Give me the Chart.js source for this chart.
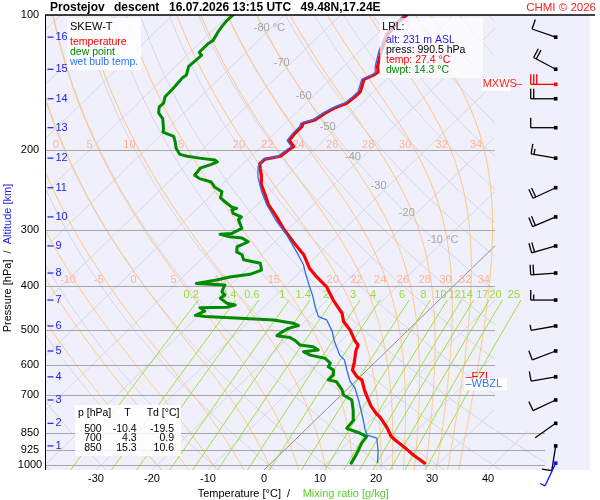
<!DOCTYPE html>
<html>
<head>
<meta charset="utf-8">
<title>Skew-T Prostejov</title>
<script src="https://cdn.jsdelivr.net/npm/chart.js@4.4.1/dist/chart.umd.min.js"></script>
<style>
html,body{margin:0;padding:0;background:#ffffff;}
canvas{display:block;}
</style>
</head>
<body>
<canvas id="skewt" width="600" height="500"></canvas>
<script>
// ================= DATA =================
// temperature profile (pressure hPa / temperature °C)
const tempP = [990.5,950,923,880,862,836,825,783,768,739,705,681,647,636,615,589,558,541,528,501,480,460,430,402,382,366,341,319,298,281,264,251,239,227,219,214,209,206,200,196,190,183,177,174,171,165,161,157,152,148,144,139,136,134,130,120,110,104,100];
const tempT = [27.4,23.9,21.7,17.9,16.4,14.8,14.1,11.0,9.6,7.3,4.9,3.2,0.9,-0.6,-2.6,-3.8,-5.5,-6.2,-7.7,-10.4,-13.1,-14.9,-18.9,-22.5,-26.1,-28.9,-32.5,-36.8,-41.0,-44.3,-48.0,-50.4,-52.8,-54.7,-56.2,-57.1,-57.0,-54.8,-54.5,-54.2,-56.1,-56.4,-56.4,-56.8,-55.3,-54.7,-54.0,-52.7,-52.4,-52.4,-53.1,-54.0,-53.1,-52.8,-54.0,-56.2,-58.1,-58.5,-58.2];
// dew point profile
const dewP = [990.5,958,926,895,865,850,829,794,755,717,699,681,653,647,631,615,605,594,579,570,560,555,546,541,528,521,516,510,497,490,484,476,472,468,465,455,447,446,441,437,426,419,412,405,398,395,388,382,377,369,356,350,341,336,327,324,319,313,311,307,306,298,285,281,276,271,269,267,260,255,247,241,235,231,227,219,215,212,210,208,206,204,198,191,186,182,179,170,165,160,157,152,146,138,136,130,123,121,116,114,111,109,106,103,100];
const dewT = [14.3,13.8,13.2,12.5,12.2,10.4,7.1,6.8,4.9,2.8,0.4,-0.8,-3.3,-5.1,-5.1,-6.0,-7.5,-7.8,-9.7,-12.9,-14.7,-12.4,-13.9,-16.6,-18.4,-19.7,-22.4,-22.3,-21.7,-20.4,-21.8,-25.9,-32.2,-38.7,-40.7,-39.8,-41.3,-36.6,-35.5,-37.3,-39.4,-39.2,-40.3,-40.7,-41.0,-46.4,-43.4,-41.6,-38.5,-37.2,-38.7,-42.3,-43.5,-45.0,-45.9,-45.4,-44.8,-46.6,-49.0,-51.2,-49.3,-48.4,-50.6,-50.6,-52.7,-53.6,-53.0,-54.2,-56.3,-57.8,-58.7,-60.9,-62.4,-65.1,-66.6,-66.9,-65.7,-65.0,-65.8,-68.9,-71.4,-73.1,-74.8,-76.3,-77.5,-80.2,-80.7,-82.7,-84.5,-85.5,-85.4,-86.3,-86.4,-86.7,-86.5,-87.7,-87.4,-88.4,-88.4,-88.1,-88.5,-88.8,-89.1,-89.3,-89.2];
// wet bulb temperature profile
const wbP = [990.5,934,872,858,836,794,755,717,675,651,615,584,570,552,530,506,476,468,445,423,398,382,369,359,336,308,288,264,247,229,217,209,206,200,196,190,183,177,174,171,165,161,157,152,148,144,139,136,134,130,120,110,104,100];
const wbT = [19.0,17.0,14.3,12.0,10.7,8.5,6.3,4.0,1.2,-1.0,-3.6,-5.9,-7.6,-9.2,-11.2,-13.2,-16.4,-18.5,-20.9,-23.1,-26.0,-27.9,-29.5,-30.7,-34.3,-39.2,-43.4,-48.3,-51.6,-55.0,-56.9,-57.3,-55.2,-54.9,-54.6,-56.5,-56.8,-56.8,-57.2,-55.7,-55.1,-54.4,-53.1,-52.8,-52.8,-53.5,-54.4,-53.5,-53.2,-54.4,-56.6,-58.5,-58.9,-58.6];

// axis ticks
const yTickLabels = [100,200,300,400,500,600,700,850,925,1000];
const isobarLevels = [200,300,400,500,600,700,850,925,1000];
const xTickLabels = [-30,-20,-10,0,10,20,30,40];

// altitude scale (km -> pressure)
const altKm = [1,2,3,4,5,6,7,8,9,10,11,12,13,14,15,16];
const altP  = [907,808,717,637,558,491,430,374.5,326,281,242,208,178,153.5,132,112];

// wind (barbs) at altitude levels
const windP   = [907,808,717,637,558,491,430,374.5,326,281,242,208,178,153.5,132,112];
const windDir = [189,235,245,260,249,260,270,266,254,247,245,280,270,270,298,289];
const windSpd = [10,2,10,10,10,5,15,20,20,20,20,15,10,20,20,10];
const mxwsP = 142.6, mxwsDir = 270, mxwsSpd = 30;
const sfcP = 990.5, sfcDir = 205, sfcSpd = 5;

// freezing / wet bulb zero levels
const fzlP = 641, wbzlP = 662;

// reference lines
const isoTemps = [-130,-120,-110,-100,-90,-80,-70,-60,-50,-40,-30,-20,-10,0,10,20,30,40,50];
const isoLabelT = [-80,-70,-60,-50,-40,-30,-20,-10];
const isoLabelP = [106.7,127.6,151.1,177.1,206.3,239.9,275.4,316.2];
const dryThetas = [-40,-30,-20,-10,0,10,20,30,40,50,60,70,80,90,100,110,120,130,140,150,160,170,180,190,200];
const moistThetaW = [-20,-15,-10,-5,0,5,10,15,20,22,24,26,28,30,32,34];
const mixRatios = [0.2,0.4,0.6,1,1.4,2,3,4,6,8,10,12,14,17,20,25];
const mixLabels = ['0.2','0.4','0.6','1','1.4','2','3','4','6','8','10','12','14','17','20','25'];

// table of standard levels
const tblP  = [500,700,850];
const tblT  = [-10.4,4.3,15.3];
const tblTd = [-19.5,0.9,10.6];

// lowest level (LRL) info
const lrlAlt = 231, lrlPress = 990.5, lrlTemp = 27.4, lrlDwpt = 14.3;

// ================= SKEW-T PROJECTION =================
const P_BOT = 1025.9;        // pressure at bottom edge of diagram
const SKEW = 82.77;          // °C shift per decade of pressure
const X_MIN = -39.1, X_MAX = 58.2;
function skewX(t, p) { return t + SKEW * Math.log10(P_BOT / p); }

function toPts(P, T) { return P.map((p, i) => ({ x: skewX(T[i], p), y: p })); }

// thermodynamics for background lines
function esat(t) { return 6.112 * Math.exp(17.67 * t / (t + 243.5)); }
function mixT(w, p) { const es = w * p / (622 + w); const L = Math.log(es / 6.112); return 243.5 * L / (17.67 - L); }
function dryT(th, p) { return (th + 273.15) * Math.pow(p / 1000, 0.2857) - 273.15; }
function moistRate(p, t) {
  const Tk = t + 273.15, es = esat(t), rs = 0.622 * es / (p - es);
  const num = 287.04 * Tk + 2.501e6 * rs;
  const den = 1005.7 + 2.501e6 * 2.501e6 * rs * 0.622 / (287.04 * Tk * Tk);
  return num / den / p;
}
function rk4(p, t, h) {
  const k1 = moistRate(p, t), k2 = moistRate(p + h / 2, t + h / 2 * k1);
  const k3 = moistRate(p + h / 2, t + h / 2 * k2), k4 = moistRate(p + h, t + h * k3);
  return t + h / 6 * (k1 + 2 * k2 + 2 * k3 + k4);
}
function moistCurve(tw) {
  const up = [[1000, tw]]; let p = 1000, t = tw;
  while (p > 100) { const h = Math.max(-2.5, 100 - p); t = rk4(p, t, h); p += h; up.push([p, t]); }
  const down = []; p = 1000; t = tw;
  while (p < P_BOT) { const h = Math.min(2.5, P_BOT - p); t = rk4(p, t, h); p += h; down.unshift([p, t]); }
  return down.concat(up);
}
function interpT(arr, p) {
  for (let i = 0; i < arr.length - 1; i++) {
    const a = arr[i], b = arr[i + 1];
    if ((a[0] - p) * (b[0] - p) <= 0) { const f = (p - a[0]) / (b[0] - a[0]); return a[1] + f * (b[1] - a[1]); }
  }
  return null;
}
const moistCurves = moistThetaW.map(moistCurve);

const FONT = '"Liberation Sans", Arial, Helvetica, sans-serif';
function txt(ctx, s, x, y, color, align, size, bold, base) {
  ctx.font = (bold ? 'bold ' : '') + (size || 11) + 'px ' + FONT;
  ctx.fillStyle = color; ctx.textAlign = align || 'left'; ctx.textBaseline = base || 'middle';
  ctx.fillText(s, x, y);
}

function drawBarb(ctx, x0, y0, dir, spd, color) {
  const L = 25, r = dir * Math.PI / 180;
  const ux = Math.sin(r), uy = -Math.cos(r);
  const tx = x0 + ux * L, ty = y0 + uy * L;
  const fx = -uy, fy = ux;
  ctx.strokeStyle = color; ctx.fillStyle = color; ctx.lineWidth = 1.3; ctx.lineCap = 'butt';
  ctx.beginPath(); ctx.moveTo(x0, y0); ctx.lineTo(tx, ty); ctx.stroke();
  ctx.fillRect(x0 - 1.8, y0 - 1.8, 3.6, 3.6);
  let s = Math.round(spd / 5) * 5, pos = 0;
  while (s >= 10) {
    const bx = tx - ux * pos, by = ty - uy * pos;
    ctx.beginPath(); ctx.moveTo(bx, by); ctx.lineTo(bx + fx * 10, by + fy * 10); ctx.stroke();
    pos += 3; s -= 10;
  }
  if (s >= 5) {
    const bx = tx - ux * pos, by = ty - uy * pos;
    ctx.beginPath(); ctx.moveTo(bx, by); ctx.lineTo(bx + fx * 5.5, by + fy * 5.5); ctx.stroke();
  }
}

const skewPlugin = {
  id: 'skewt',
  beforeDraw(chart) {
    const { ctx, chartArea: a } = chart;
    ctx.save();
    ctx.fillStyle = '#ffffff'; ctx.fillRect(0, 0, chart.width, chart.height);
    ctx.fillStyle = '#f0f0fd'; ctx.fillRect(a.left, a.top, a.right - a.left, a.bottom - a.top);
    ctx.restore();
  },
  beforeDatasetsDraw(chart) {
    const { ctx, chartArea: a, scales } = chart;
    const xs = scales.x, ys = scales.y;
    const PX = (t, p) => xs.getPixelForValue(skewX(t, p));
    const PY = p => ys.getPixelForValue(p);
    const gR = a.right - 95, gR2 = a.right - 45, yc = PY(840);
    const sample = (fn, pHi, color, w) => {
      ctx.strokeStyle = color; ctx.lineWidth = w; ctx.beginPath();
      const n = 90;
      for (let i = 0; i <= n; i++) {
        const p = P_BOT * Math.pow(pHi / P_BOT, i / n);
        const x = PX(fn(p), p), y = PY(p);
        if (i === 0) ctx.moveTo(x, y); else ctx.lineTo(x, y);
      }
      ctx.stroke();
    };
    ctx.save();
    ctx.beginPath();
    ctx.moveTo(a.left, a.top); ctx.lineTo(gR, a.top); ctx.lineTo(gR, yc); ctx.lineTo(gR2, yc);
    ctx.lineTo(gR2, a.bottom); ctx.lineTo(a.left, a.bottom); ctx.closePath(); ctx.clip();
    // dry adiabats
    dryThetas.forEach(th => sample(p => dryT(th, p), 100, '#d6d6de', 1));
    // isotherms
    isoTemps.forEach(t => { if (t !== 0) sample(() => t, 100, '#d6d6de', 1); });
    sample(() => 0, 100, '#8c8c8c', 1);
    // moist adiabats
    moistCurves.forEach(c => {
      ctx.strokeStyle = '#ffc47a'; ctx.lineWidth = 1; ctx.beginPath();
      c.forEach((pt, i) => { const x = PX(pt[1], pt[0]), y = PY(pt[0]); if (i === 0) ctx.moveTo(x, y); else ctx.lineTo(x, y); });
      ctx.stroke();
    });
    ctx.restore();
    // mixing ratio lines
    ctx.save();
    ctx.beginPath(); ctx.rect(a.left, a.top, a.right - a.left, a.bottom - a.top); ctx.clip();
    mixRatios.forEach(w => sample(p => mixT(w, p), 430, '#9ee02e', 1));
    ctx.restore();
    // isobars
    ctx.save();
    ctx.strokeStyle = '#a6a6a6'; ctx.lineWidth = 1.2;
    isobarLevels.forEach(p => {
      const y = Math.round(PY(p)) + 0.5;
      ctx.beginPath(); ctx.moveTo(a.left, y); ctx.lineTo(p >= 850 ? gR2 : gR, y); ctx.stroke();
    });
    // isotherm labels
    isoLabelT.forEach((t, i) => {
      const p = isoLabelP[i], x = PX(t, p), y = PY(p);
      txt(ctx, String(t), x - 2, y, '#a4a4a4', 'right', 11);
      if (t === -80 || t === -10) txt(ctx, ' °C', x - 2, y, '#a4a4a4', 'left', 11);
    });
    // moist adiabat labels (two rows)
    [[194.5, -7], [387, -6]].forEach(([pr, dx]) => {
      moistCurves.forEach((c, i) => {
        const t = interpT(c, pr); if (t === null) return;
        const x = PX(t, pr) + dx, y = PY(pr);
        if (x < a.left + 6 || x > gR - 4) return;
        txt(ctx, String(moistThetaW[i]), x, y, '#ffb494', 'center', 11);
      });
    });
    // mixing ratio labels
    mixRatios.forEach((w, i) => {
      const x = PX(mixT(w, 430), 430) - 7, y = PY(430) - 5;
      txt(ctx, mixLabels[i], x, y, '#99dd33', 'center', 11);
    });
    ctx.restore();
  },
  afterDatasetsDraw(chart) {
    const { ctx, chartArea: a, scales } = chart;
    const xs = scales.x, ys = scales.y;
    const PY = p => ys.getPixelForValue(p);
    ctx.save();
    // axes lines
    ctx.strokeStyle = '#000'; ctx.lineWidth = 1;
    ctx.beginPath(); ctx.moveTo(a.left + 0.5, a.top); ctx.lineTo(a.left + 0.5, a.bottom); ctx.stroke();
    ctx.lineWidth = 1.6;
    ctx.beginPath(); ctx.moveTo(a.left, a.top); ctx.lineTo(a.right + 5, a.top); ctx.stroke();
    // y tick labels
    yTickLabels.forEach(p => txt(ctx, String(p), a.left - 15, PY(p), '#000', 'center', 11));
    // x tick labels
    xTickLabels.forEach(t => txt(ctx, String(t), xs.getPixelForValue(t), a.bottom + 8.5, '#000', 'center', 11));
    // altitude labels
    ctx.strokeStyle = '#1c1ce8'; ctx.lineWidth = 1.2;
    altKm.forEach((k, i) => {
      const y = PY(altP[i]);
      ctx.beginPath(); ctx.moveTo(a.left + 2.5, y); ctx.lineTo(a.left + 8.5, y); ctx.stroke();
      txt(ctx, String(k), a.left + 10.5, y, '#1c1ce8', 'left', 11);
    });
    // legend box
    ctx.fillStyle = 'rgba(255,255,255,0.85)'; ctx.fillRect(67, 18, 74, 52);
    txt(ctx, 'SKEW-T', 70, 26.7, '#000', 'left', 11);
    txt(ctx, 'temperature', 70, 42, '#ff0000', 'left', 10.5);
    txt(ctx, 'dew point', 70, 51.7, '#008a00', 'left', 10.5);
    txt(ctx, 'wet bulb temp.', 70, 61.7, '#2f74ff', 'left', 10.5);
    // LRL box
    ctx.fillStyle = 'rgba(255,255,255,0.72)'; ctx.fillRect(380, 18, 103, 60);
    txt(ctx, 'LRL:', 382.3, 26.7, '#000', 'left', 10.5);
    txt(ctx, 'alt: ' + lrlAlt + ' m ASL', 386, 40, '#1c1ce8', 'left', 10.5);
    txt(ctx, 'press: ' + lrlPress.toFixed(1) + ' hPa', 386, 50, '#000', 'left', 10.5);
    txt(ctx, 'temp: ' + lrlTemp.toFixed(1) + ' °C', 386, 60, '#ff0000', 'left', 10.5);
    txt(ctx, 'dwpt: ' + lrlDwpt.toFixed(1) + ' °C', 386, 70, '#008a00', 'left', 10.5);
    // table box
    ctx.fillStyle = 'rgba(255,255,255,0.85)'; ctx.fillRect(75, 405, 106, 51);
    txt(ctx, 'p [hPa]', 78, 413.3, '#000', 'left', 10.5);
    txt(ctx, 'T', 127.5, 413.3, '#000', 'center', 10.5);
    txt(ctx, 'Td [°C]', 146.7, 413.3, '#000', 'left', 10.5);
    tblP.forEach((p, i) => {
      const y = 429 + i * 9.4;
      txt(ctx, String(p), 101.7, y, '#000', 'right', 10.5);
      txt(ctx, tblT[i].toFixed(1), 136.7, y, '#000', 'right', 10.5);
      txt(ctx, tblTd[i].toFixed(1), 174, y, '#000', 'right', 10.5);
    });
    // FZL / WBZL
    const yF = PY(fzlP), yW = PY(wbzlP);
    txt(ctx, '–FZL', 465.5, yF - 1, '#ff0000', 'left', 11);
    ctx.fillStyle = '#ffffff'; ctx.fillRect(464, yW - 6, 43, 12);
    txt(ctx, '–WBZL', 465.5, yW, '#2f74ff', 'left', 11);
    // MXWS
    const yM = PY(mxwsP);
    ctx.fillStyle = '#ffffff'; ctx.fillRect(481, yM - 6.3, 30, 12.6);
    txt(ctx, 'MXWS', 482.7, yM, '#ff2020', 'left', 11);
    txt(ctx, '–', 516, yM, '#ff2020', 'left', 11);
    // wind barbs
    const bx = a.right - 34.3;
    windP.forEach((p, i) => drawBarb(ctx, bx, PY(p), windDir[i], windSpd[i], '#000'));
    drawBarb(ctx, bx, yM, mxwsDir, mxwsSpd, '#ff0000');
    drawBarb(ctx, bx, PY(sfcP), sfcDir, sfcSpd, '#1010ff');
    // title
    txt(ctx, 'Prostejov', 50, 11, '#000', 'left', 12, true, 'alphabetic');
    txt(ctx, 'descent', 114, 11, '#000', 'left', 12, true, 'alphabetic');
    txt(ctx, '16.07.2026 13:15 UTC', 169, 11, '#000', 'left', 12, true, 'alphabetic');
    txt(ctx, '49.48N,17.24E', 300.5, 11, '#000', 'left', 12, true, 'alphabetic');
    txt(ctx, 'CHMI © 2026', 596, 11, '#ff2020', 'right', 11.5, false, 'alphabetic');
    // x axis title
    txt(ctx, 'Temperature [°C]', 197.7, 493.5, '#000', 'left', 11);
    txt(ctx, '/', 288.5, 493.5, '#000', 'center', 11);
    txt(ctx, 'Mixing ratio [g/kg]', 302.7, 493.5, '#5ccc2a', 'left', 11);
    // y axis title (rotated)
    ctx.translate(8, 258); ctx.rotate(-Math.PI / 2);
    ctx.font = '11px ' + FONT;
    const s1 = 'Pressure [hPa]', s2 = '  /  ', s3 = 'Altitude [km]';
    const w1 = ctx.measureText(s1).width, w2 = ctx.measureText(s2).width, w3 = ctx.measureText(s3).width;
    let x0 = -(w1 + w2 + w3) / 2;
    txt(ctx, s1, x0, 0, '#000', 'left', 11); x0 += w1;
    txt(ctx, s2, x0, 0, '#000', 'left', 11); x0 += w2;
    txt(ctx, s3, x0, 0, '#1c1ce8', 'left', 11);
    ctx.restore();
  }
};

const ctx = document.getElementById('skewt').getContext('2d');
new Chart(ctx, {
  type: 'scatter',
  data: {
    datasets: [
      { label: 'wet bulb temp.', data: toPts(wbP, wbT), showLine: true, borderColor: '#2a6ef0', borderWidth: 1.3, pointRadius: 0, order: 0, borderJoinStyle: 'round' },
      { label: 'temperature', data: toPts(tempP, tempT), showLine: true, borderColor: '#ff0000', borderWidth: 3.2, pointRadius: 0, order: 1, borderJoinStyle: 'round', borderCapStyle: 'round' },
      { label: 'dew point', data: toPts(dewP, dewT), showLine: true, borderColor: '#008a00', borderWidth: 3, pointRadius: 0, order: 2, borderJoinStyle: 'round', borderCapStyle: 'round' }
    ]
  },
  options: {
    responsive: false,
    animation: false,
    devicePixelRatio: 1,
    events: [],
    layout: { padding: { left: 45, top: 15, right: 10, bottom: 30 } },
    plugins: { legend: { display: false }, tooltip: { enabled: false }, title: { display: false } },
    scales: {
      x: { type: 'linear', min: X_MIN, max: X_MAX, display: false },
      y: { type: 'logarithmic', min: 100, max: P_BOT, reverse: true, display: false }
    }
  },
  plugins: [skewPlugin]
});
</script>
</body>
</html>
